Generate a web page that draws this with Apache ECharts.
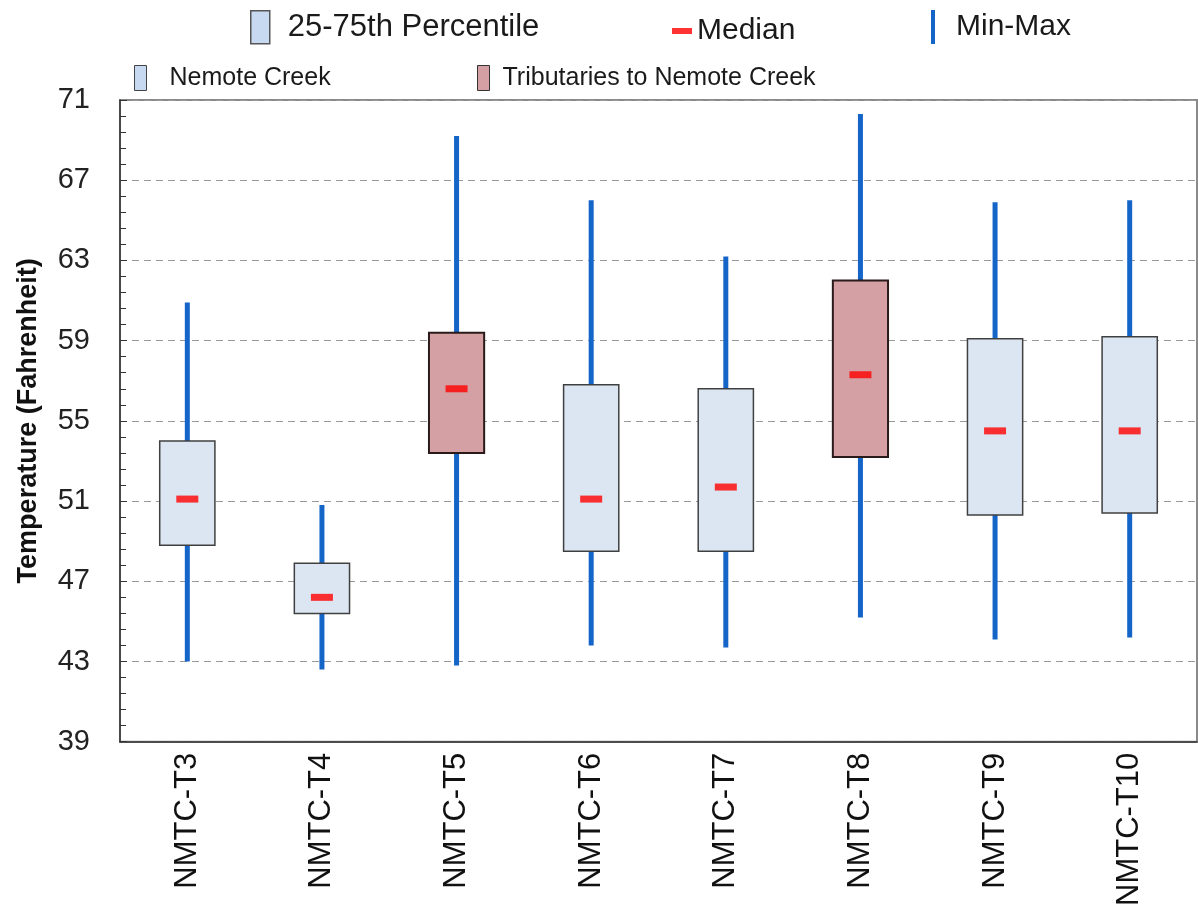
<!DOCTYPE html>
<html>
<head>
<meta charset="utf-8">
<title>Nemote Creek temperature</title>
<script src="https://cdn.jsdelivr.net/npm/echarts@6/dist/echarts.min.js"></script>
<style>
    html, body { margin: 0; padding: 0; background: #fff; }
    #chart { width: 1198px; height: 909px; }
</style>
</head>
<body>
<div id="chart"></div>
<script>
var categories = ['NMTC-T3', 'NMTC-T4', 'NMTC-T5', 'NMTC-T6', 'NMTC-T7', 'NMTC-T8', 'NMTC-T9', 'NMTC-T10'];
var minVals    = [43.0, 42.6, 42.8, 43.8, 43.7, 45.2, 44.1, 44.2];
var q1Vals     = [48.8, 45.4, 53.4, 48.5, 48.5, 53.2, 50.3, 50.4];
var medianVals = [51.1, 46.2, 56.6, 51.1, 51.7, 57.3, 54.5, 54.5];
var q3Vals     = [54.0, 47.9, 59.4, 56.8, 56.6, 62.0, 59.1, 59.2];
var maxVals    = [60.9, 50.8, 69.2, 66.0, 63.2, 70.3, 65.9, 66.0];
// which stations are tributaries
var isTributary = [false, false, true, false, false, true, false, false];
var yTicks = { min: 39, max: 71, step: 4 };

var FONT = '"Liberation Sans", Arial, sans-serif';
var WHISKER = '#1565c8';
var CREEK_FILL = '#dce6f2';
var TRIB_FILL = '#d4a0a4';
var MEDIAN_RED = '#ff0000';

var chart = echarts.init(document.getElementById('chart'));

// build series data from the arrays
var whiskerData = categories.map(function (c, i) { return [i, minVals[i], maxVals[i]]; });
var creekData = [], tribData = [];
categories.forEach(function (c, i) {
    (isTributary[i] ? tribData : creekData).push([i, q1Vals[i], q3Vals[i]]);
});
var medianData = categories.map(function (c, i) { return [i, medianVals[i]]; });

function renderWhisker(params, api) {
    var top = api.coord([api.value(0), api.value(2)]);
    var bot = api.coord([api.value(0), api.value(1)]);
    return {
        type: 'line',
        shape: { x1: top[0], y1: top[1], x2: bot[0], y2: bot[1] },
        style: { stroke: WHISKER, lineWidth: 5 }
    };
}

function boxRenderer(fill, stroke, lw) {
    return function (params, api) {
        var top = api.coord([api.value(0), api.value(2)]);
        var bot = api.coord([api.value(0), api.value(1)]);
        var w = api.size([1, 0])[0] * 0.41;
        return {
            type: 'rect',
            shape: { x: top[0] - w / 2, y: top[1], width: w, height: bot[1] - top[1] },
            style: { fill: fill, stroke: stroke, lineWidth: lw }
        };
    };
}

function legendItem(name, left, top, w, h, fontSize, gap, style) {
    return {
        left: left,
        top: top,
        padding: 0,
        selectedMode: false,
        itemWidth: w,
        itemHeight: h,
        textStyle: { fontSize: fontSize, fontFamily: FONT, color: '#1a1a1a', padding: [0, 0, 0, gap] },
        data: [{ name: name, icon: 'rect', itemStyle: style }]
    };
}

var option = {
    animation: false,
    textStyle: { fontFamily: FONT },
    legend: [
        legendItem('25-75th Percentile', 250, 10, 19, 33, 31, 13,
            { color: '#c6d9f0', borderColor: '#555', borderWidth: 1.5 }),
        legendItem('Median', 672, 16, 20, 6, 30, 0, { color: MEDIAN_RED }),
        legendItem('Min-Max', 931, 10, 4, 34, 30, 16, { color: WHISKER }),
        legendItem('Nemote Creek', 134, 65, 12, 25, 25, 18,
            { color: '#c6d9f0', borderColor: '#444', borderWidth: 1 }),
        legendItem('Tributaries to Nemote Creek', 477, 65, 12, 25, 25, 8,
            { color: TRIB_FILL, borderColor: '#333', borderWidth: 1 })
    ],
    grid: {
        left: 120,
        right: 1,
        top: 100,
        height: 647,
        show: true,
        borderColor: '#8a8a8a',
        borderWidth: 2
    },
    xAxis: {
        type: 'category',
        data: categories,
        axisLine: { lineStyle: { color: '#333', width: 1.5 } },
        axisTick: { inside: true, length: 9, lineStyle: { color: '#333' } },
        axisLabel: { rotate: 90, fontSize: 31, color: '#111', margin: 11, fontFamily: FONT },
        splitLine: { show: false }
    },
    yAxis: {
        type: 'value',
        min: yTicks.min,
        max: yTicks.max,
        interval: yTicks.step,
        name: 'Temperature (Fahrenheit)',
        nameLocation: 'middle',
        nameGap: 78,
        nameTextStyle: { fontSize: 27, fontWeight: 'bold', color: '#111', fontFamily: FONT },
        axisLine: { show: true, lineStyle: { color: '#333', width: 1.5 } },
        axisTick: { show: true, inside: true, length: 7, lineStyle: { color: '#333' } },
        minorTick: { show: true, splitNumber: 5, length: 6, lineStyle: { color: '#333' } },
        axisLabel: { fontSize: 29, color: '#222', margin: 30, fontFamily: FONT },
        splitLine: {
            show: true,
            lineStyle: { color: '#999', width: 1.2, type: [7, 5] }
        }
    },
    series: [
        {
            name: 'Min-Max',
            type: 'custom',
            renderItem: renderWhisker,
            itemStyle: { color: WHISKER },
            encode: { x: 0, y: [1, 2] },
            data: whiskerData,
            z: 2
        },
        {
            name: '25-75th Percentile',
            type: 'custom',
            renderItem: boxRenderer(CREEK_FILL, '#404040', 1.5),
            itemStyle: { color: '#c6d9f0' },
            data: [],
            z: 3
        },
        {
            name: 'Nemote Creek',
            type: 'custom',
            renderItem: boxRenderer(CREEK_FILL, '#404040', 1.5),
            itemStyle: { color: CREEK_FILL },
            encode: { x: 0, y: [1, 2] },
            data: creekData,
            z: 3
        },
        {
            name: 'Tributaries to Nemote Creek',
            type: 'custom',
            renderItem: boxRenderer(TRIB_FILL, '#2a1a1a', 2),
            itemStyle: { color: TRIB_FILL },
            encode: { x: 0, y: [1, 2] },
            data: tribData,
            z: 3
        },
        {
            name: 'Median',
            type: 'scatter',
            symbol: 'rect',
            symbolSize: [22, 7],
            itemStyle: { color: MEDIAN_RED },
            data: medianData,
            z: 4
        }
    ]
};
chart.setOption(option);

window.addEventListener('resize', function () {
    chart.resize();
});
</script>
</body>
</html>
